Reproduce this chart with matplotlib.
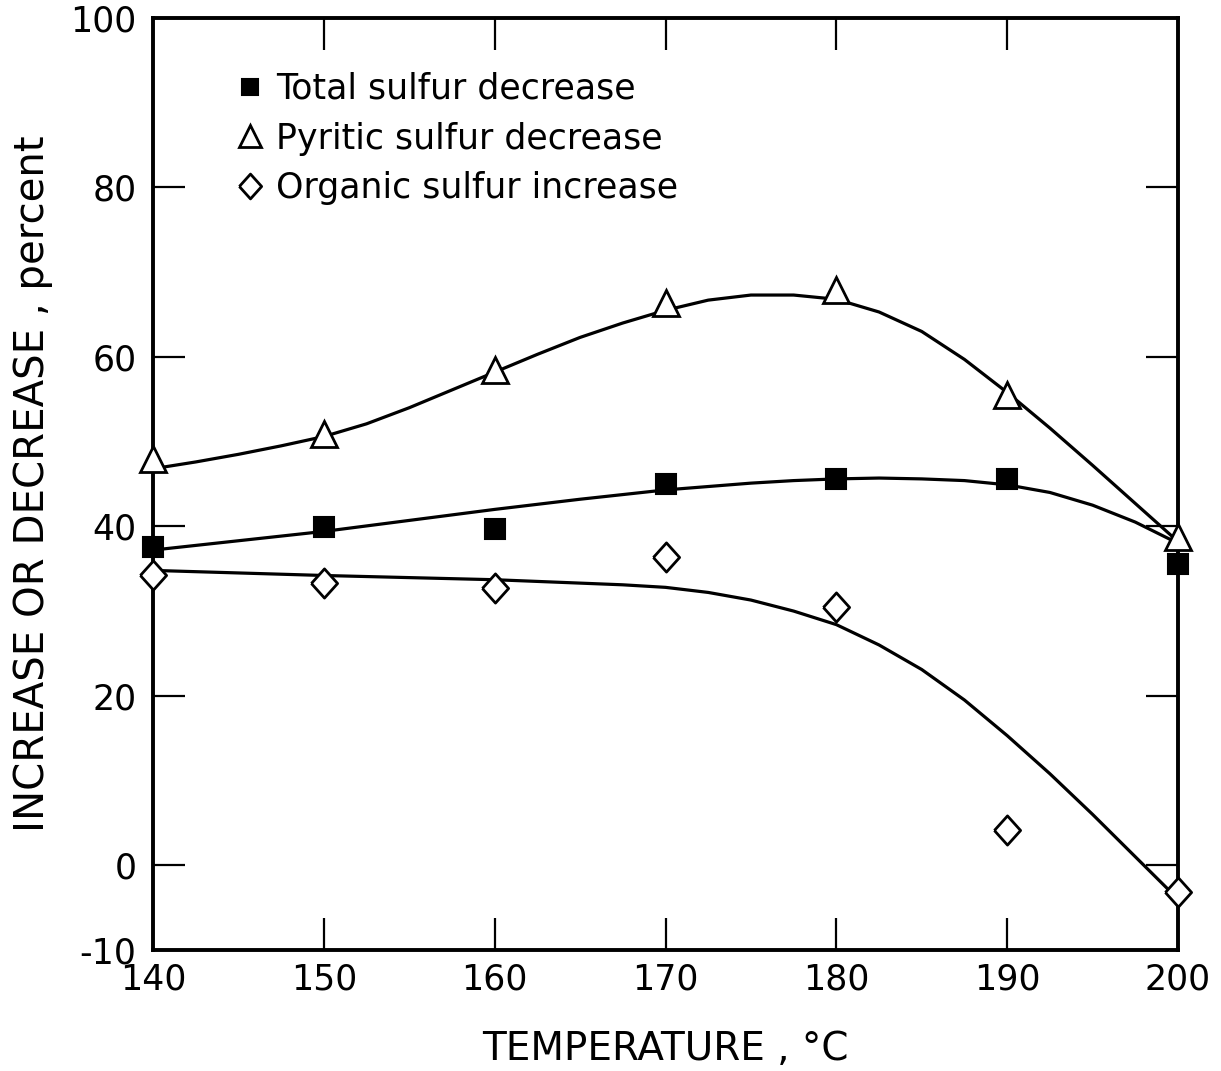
import matplotlib
matplotlib.use('Agg')
import matplotlib.pyplot as plt

plt.rcParams['font.family'] = 'DejaVu Sans'

# measured points
temps = [140, 150, 160, 170, 180, 190, 200]
total_pts = [37.6, 39.9, 39.7, 45.0, 45.6, 45.6, 35.6]
pyritic_pts = [47.9, 50.9, 58.5, 66.4, 67.9, 55.5, 38.8]
organic_pts = [34.3, 33.3, 32.7, 36.4, 30.5, 4.2, -3.2]

# smooth curves drawn by hand on the original
pyr_curve_x = [140, 142.5, 145, 147.5, 150, 152.5, 155, 157.5, 160, 162.5, 165, 167.5, 170, 172.5, 175,
               177.5, 180, 182.5, 185, 187.5, 190, 192.5, 195, 197.5, 200]
pyr_curve_y = [46.8, 47.6, 48.5, 49.5, 50.6, 52.1, 54.0, 56.1, 58.2, 60.3, 62.3, 64.0, 65.5, 66.7, 67.3,
               67.3, 66.8, 65.3, 63.0, 59.7, 55.8, 51.6, 47.2, 42.7, 38.2]
tot_curve_x = [140, 145, 150, 155, 160, 165, 170, 175, 177.5, 180, 182.5, 185, 187.5, 190, 192.5, 195, 197.5, 200]
tot_curve_y = [37.2, 38.3, 39.4, 40.7, 42.0, 43.2, 44.3, 45.1, 45.4, 45.6, 45.7, 45.6, 45.4, 44.9, 44.0, 42.5, 40.5, 38.0]
org_curve_x = [140, 150, 160, 165, 167.5, 170, 172.5, 175, 177.5, 180, 182.5, 185, 187.5, 190, 192.5, 195, 197.5, 200]
org_curve_y = [34.8, 34.2, 33.7, 33.3, 33.1, 32.8, 32.2, 31.3, 30.0, 28.4, 26.0, 23.1, 19.5, 15.3, 10.8, 6.0, 1.0, -4.0]

x_ticks = [140, 150, 160, 170, 180, 190, 200]
y_ticks = [-10, 0, 20, 40, 60, 80, 100]

fig = plt.figure(figsize=(12.21, 10.71), dpi=100)
ax = fig.add_axes([0.1253, 0.1130, 0.8395, 0.8702])

for cx, cy in [(pyr_curve_x, pyr_curve_y), (tot_curve_x, tot_curve_y), (org_curve_x, org_curve_y)]:
    ax.plot(cx, cy, color='black', lw=2.3, solid_joinstyle='round', solid_capstyle='round', zorder=3)

diamond = [(-0.45, 0), (0, 0.5), (0.45, 0), (0, -0.5), (-0.45, 0)]
h1, = ax.plot(temps, total_pts, ls='none', marker='s', ms=14, mfc='black', mec='black',
              mew=1.5, clip_on=False, zorder=5, label='Total sulfur decrease')
h2, = ax.plot(temps, pyritic_pts, ls='none', marker='^', ms=19, mfc='white', mec='black',
              mew=2, clip_on=False, zorder=5, label='Pyritic sulfur decrease')
h3, = ax.plot(temps, organic_pts, ls='none', marker=diamond, ms=21, mfc='white', mec='black',
              mew=2, clip_on=False, zorder=5, label='Organic sulfur increase')

ax.set_xlim(140, 200)
ax.set_ylim(-10, 100)
ax.set_xticks(x_ticks)
ax.set_yticks(y_ticks)
ax.set_yticklabels([str(v) for v in y_ticks])
ax.tick_params(direction='in', length=23, width=1.6, labelsize=25, top=True, right=True,
               pad=9, color='black')
ax.tick_params(axis='y', pad=12)
for s in ax.spines.values():
    s.set_linewidth(2.8)
    s.set_zorder(2.5)

ax.set_xlabel('TEMPERATURE , °C', fontsize=28, labelpad=24)
ax.set_ylabel('INCREASE OR DECREASE , percent', fontsize=29, labelpad=12)

ax.legend(handles=[h1, h2, h3], loc='upper left', bbox_to_anchor=(0.066, 0.957), frameon=False,
          fontsize=25, handlelength=0.9, handletextpad=0.3, labelspacing=0.45, borderaxespad=0,
          markerscale=0.85)

plt.savefig('out.png', dpi=100, facecolor='white')
